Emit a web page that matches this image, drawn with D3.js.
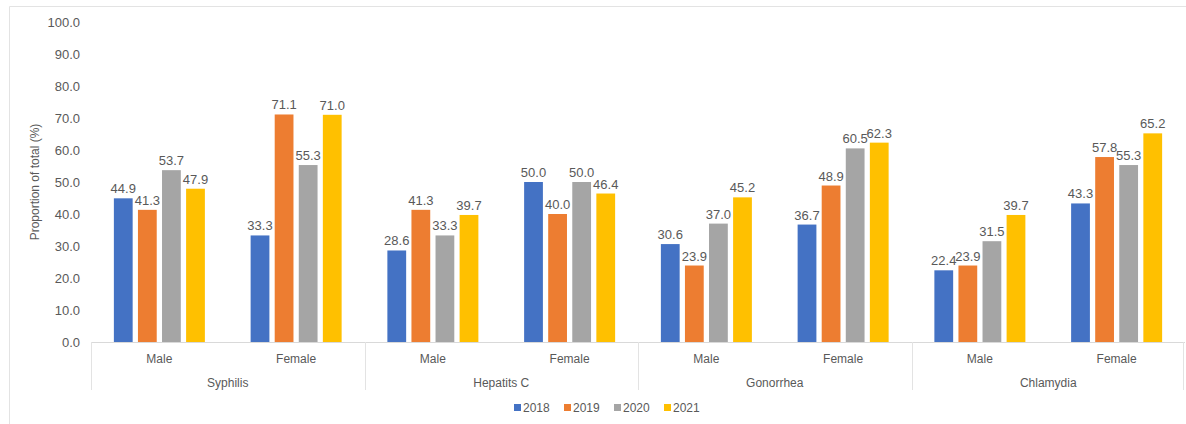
<!DOCTYPE html>
<html>
<head>
<meta charset="utf-8">
<script src="https://cdn.jsdelivr.net/npm/d3@7"></script>
<style>
  body { margin: 0; background: #fff; }
  svg text { font-family: Arial, "Liberation Sans", sans-serif; fill: #595959; }
</style>
</head>
<body>
<div id="chart"></div>
<script>
// chart data
const diseases = ['Syphilis', 'Hepatits C', 'Gonorrhea', 'Chlamydia']
const sexes = ['Male', 'Female']
const years = ['2018', '2019', '2020', '2021']
const colors = ['#4472C4', '#ED7D31', '#A5A5A5', '#FFC000']
// one array per year, order: disease x sex
const v2018 = [44.9, 33.3, 28.6, 50.0, 30.6, 36.7, 22.4, 43.3]
const v2019 = [41.3, 71.1, 41.3, 40.0, 23.9, 48.9, 23.9, 57.8]
const v2020 = [53.7, 55.3, 33.3, 50.0, 37.0, 60.5, 31.5, 55.3]
const v2021 = [47.9, 71.0, 39.7, 46.4, 45.2, 62.3, 39.7, 65.2]
const yTicks = [0, 10, 20, 30, 40, 50, 60, 70, 80, 90, 100]

const series = [v2018, v2019, v2020, v2021]

const width = 1186
const height = 424
const margin = { top: 22, right: 1, bottom: 82, left: 91 }

const svg = d3.select('#chart').append('svg')
  .attr('width', width)
  .attr('height', height)

// frame (top + left edges only are visible)
svg.append('path')
  .attr('d', `M9.5,${height} V6.5 H${width}`)
  .attr('fill', 'none')
  .attr('stroke', '#e3e3e3')

const plotW = width - margin.left - margin.right
const plotH = height - margin.top - margin.bottom

const cells = []
diseases.forEach(d => sexes.forEach(s => cells.push(d + '|' + s)))

const x0 = d3.scaleBand().domain(diseases).range([margin.left, margin.left + plotW])
const x1 = d3.scaleBand().domain(sexes).range([0, x0.bandwidth()])
const x2 = d3.scaleBand().domain(years).range([0, x1.bandwidth()]).paddingInner(0.22).paddingOuter(0.95)
const y = d3.scaleLinear().domain([0, 100]).range([margin.top + plotH, margin.top])

// y axis labels
const yAxis = d3.axisLeft(y).tickValues(yTicks).tickFormat(d3.format('.1f')).tickSize(0).tickPadding(11)
const yg = svg.append('g')
  .attr('transform', `translate(${margin.left},0)`)
  .call(yAxis)
yg.select('.domain').remove()
yg.selectAll('text').style('font-size', '13px').attr('fill', '#595959')

svg.append('text')
  .attr('transform', `translate(39,${y(50)}) rotate(-90)`)
  .attr('text-anchor', 'middle')
  .style('font-size', '12px')
  .text('Proportion of total (%)')

// baseline
svg.append('line')
  .attr('x1', margin.left).attr('x2', margin.left + plotW)
  .attr('y1', y(0) + 0.5).attr('y2', y(0) + 0.5)
  .attr('stroke', '#d9d9d9')

// group dividers
const dividers = diseases.map(d => x0(d)).concat([margin.left + plotW - 2])
svg.selectAll('.divider')
  .data(dividers)
  .enter()
  .append('line')
  .attr('class', 'divider')
  .attr('x1', d => Math.round(d) + 0.5).attr('x2', d => Math.round(d) + 0.5)
  .attr('y1', y(0)).attr('y2', y(0) + 48)
  .attr('stroke', '#e3e3e3')

// bars
const groups = svg.selectAll('.cell')
  .data(cells)
  .enter()
  .append('g')
  .attr('class', 'cell')
  .attr('transform', (c) => {
    const [d, s] = c.split('|')
    return `translate(${x0(d) + x1(s)},0)`
  })

groups.each(function(c, ci) {
  const g = d3.select(this)
  years.forEach((yr, yi) => {
    const val = series[yi][ci]
    g.append('rect')
      .attr('x', x2(yr))
      .attr('y', y(val))
      .attr('width', x2.bandwidth())
      .attr('height', y(0) - y(val))
      .attr('fill', colors[yi])
    g.append('text')
      .attr('x', x2(yr) + x2.bandwidth() / 2)
      .attr('y', y(val) - 5)
      .attr('text-anchor', 'middle')
      .style('font-size', '13px')
      .text(val.toFixed(1))
  })
})

// sex labels
groups.append('text')
  .attr('x', x1.bandwidth() / 2)
  .attr('y', y(0) + 21)
  .attr('text-anchor', 'middle')
  .style('font-size', '12px')
  .text(c => c.split('|')[1])

// disease labels
svg.selectAll('.dlabel')
  .data(diseases)
  .enter()
  .append('text')
  .attr('class', 'dlabel')
  .attr('x', d => x0(d) + x0.bandwidth() / 2)
  .attr('y', y(0) + 45)
  .attr('text-anchor', 'middle')
  .style('font-size', '12px')
  .text(d => d)

// legend
const legend = svg.append('g').attr('transform', 'translate(514,408)')
years.forEach((yr, i) => {
  const item = legend.append('g').attr('transform', `translate(${i * 50},0)`)
  item.append('rect').attr('x', 0).attr('y', -4).attr('width', 7).attr('height', 7).attr('fill', colors[i])
  item.append('text').attr('x', 9).attr('y', 4).style('font-size', '12px').text(yr)
})
</script>
</body>
</html>
